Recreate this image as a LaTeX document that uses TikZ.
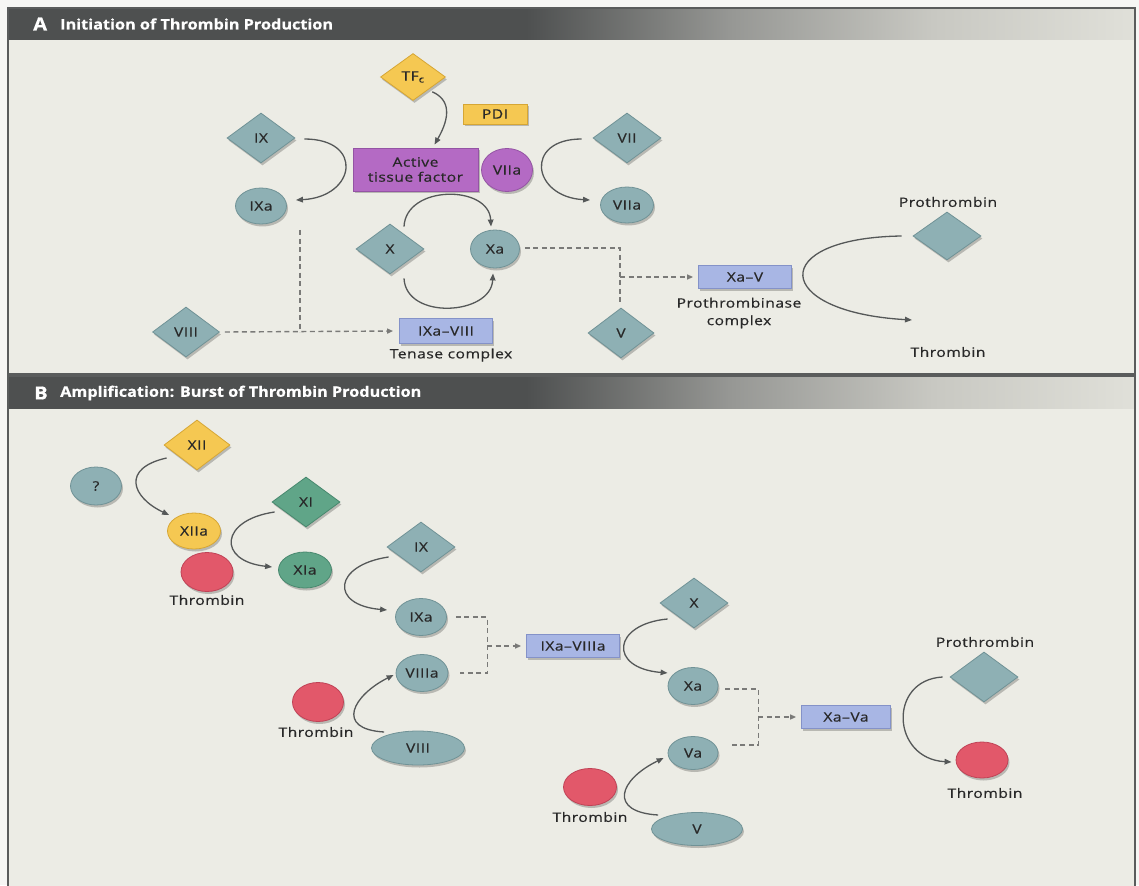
\documentclass[tikz,border=0pt]{standalone}
\usepackage{fontspec}
\setmainfont{Open Sans}[FakeStretch=1.2, LetterSpace=4, FakeBold=0.5]
\newfontfamily\hdrfont{Open Sans}[FakeStretch=1.12, FakeBold=0.6]
\usetikzlibrary{shapes.geometric, shadows, arrows.meta, calc}

\definecolor{cOut}{RGB}{246,246,244}
\definecolor{cPan}{RGB}{236,236,229}
\definecolor{cBord}{RGB}{90,92,92}
\definecolor{hdA}{RGB}{78,80,80}
\definecolor{hdB}{RGB}{150,151,148}
\definecolor{hdC}{RGB}{200,200,194}
\definecolor{hdD}{RGB}{224,224,217}
\definecolor{cTeal}{RGB}{142,176,180}
\definecolor{cTealE}{RGB}{112,146,150}
\definecolor{cYel}{RGB}{245,200,82}
\definecolor{cYelE}{RGB}{214,166,52}
\definecolor{cPur}{RGB}{180,106,196}
\definecolor{cPurE}{RGB}{148,84,164}
\definecolor{cGrn}{RGB}{96,165,136}
\definecolor{cGrnE}{RGB}{72,136,110}
\definecolor{cRed}{RGB}{226,88,106}
\definecolor{cRedE}{RGB}{192,66,86}
\definecolor{cBlu}{RGB}{168,182,228}
\definecolor{cBluE}{RGB}{132,146,200}
\definecolor{cTxt}{RGB}{40,40,40}
\definecolor{cArr}{RGB}{85,88,88}
\definecolor{cDsh}{RGB}{122,122,120}

\pgfdeclarehorizontalshading{hdrshade}{100bp}{color(0bp)=(hdA); color(48bp)=(hdA); color(57bp)=(hdB); color(66bp)=(hdC); color(75bp)=(hdD); color(100bp)=(hdD)}

\newcommand\lblfont{\fontsize{13}{15}\selectfont}
\newcommand\hdrtxt{\hdrfont\fontsize{14.5}{14.5}\bfseries\selectfont}

\tikzset{
  base/.style={inner sep=0pt, font=\lblfont, text=cTxt, line width=0.8pt,
    drop shadow={shadow xshift=1.5pt, shadow yshift=-2.5pt, opacity=0.22, fill=black}},
  dia/.style={base, diamond, minimum width=68pt, minimum height=50pt},
  ell/.style={base, ellipse, minimum width=51pt, minimum height=37pt},
  boxn/.style={base, rectangle, minimum width=93pt, minimum height=23pt},
  tealn/.style={fill=cTeal, draw=cTealE},
  yeln/.style={fill=cYel, draw=cYelE},
  purn/.style={fill=cPur, draw=cPurE},
  grnn/.style={fill=cGrn, draw=cGrnE},
  redn/.style={fill=cRed, draw=cRedE},
  blun/.style={fill=cBlu, draw=cBluE},
  lbl/.style={inner sep=0pt, font=\lblfont, text=cTxt},
  hdrlbl/.style={inner sep=0pt, text=white, anchor=west},
  arr/.style={draw=cArr, line width=1.3pt, -{Triangle[length=7pt,width=5.5pt]}},
  dsh/.style={draw=cDsh, line width=1.4pt, dash pattern=on 5pt off 3.5pt},
  dsharr/.style={dsh, -{Triangle[length=6pt,width=5pt]}, shorten >=5pt}
}

\begin{document}
\begin{tikzpicture}[x=1pt,y=-1pt]
\useasboundingbox (0,0) rectangle (1139,885);
\fill[cOut] (0,0) rectangle (1139,885);

% ---------- Panel A frame
\fill[cPan] (8,8) rectangle (1135,374);
\shade[shading=hdrshade] (8,8) rectangle (1135,40);
\draw[cBord, line width=1.5pt] (8,8) rectangle (1135,374);
\node[hdrlbl, font=\hdrfont\fontsize{18}{18}\bfseries\selectfont] (hA) at (33,24) {A};
\node[hdrlbl, font=\hdrtxt] (hA2) at (60,24) {Initiation of Thrombin Production};

% ---------- Panel B frame
\fill[cPan] (8,376) rectangle (1135,890);
\shade[shading=hdrshade] (8,376) rectangle (1135,408);
\draw[cBord, line width=1.5pt] (8,890) -- (8,376) -- (1135,376) -- (1135,890);
\node[hdrlbl, font=\hdrfont\fontsize{18}{18}\bfseries\selectfont] (hB) at (34,393) {B};
\node[hdrlbl, font=\hdrtxt] (hB2) at (60,393) {Amplification: Burst of Thrombin Production};

% ---------- Panel A nodes
\node[dia, yeln, minimum width=65pt, minimum height=47pt] (TFc) at (413,77) {TF\textsubscript{c}};
\node[base, rectangle, yeln, minimum width=64pt, minimum height=20pt] (PDI) at (495,114) {PDI};
\node[base, rectangle, purn, minimum width=125pt, minimum height=43pt, align=center] (ATF) at (415.5,169.5) {Active\\tissue factor};
\node[ell, purn, minimum width=51pt, minimum height=43pt] (VIIap) at (507,170) {VIIa};
\node[dia, tealn] (IX) at (261,138) {IX};
\node[ell, tealn, minimum height=36pt] (IXa) at (261,206) {IXa};
\node[dia, tealn] (VII) at (627,138) {VII};
\node[ell, tealn, minimum width=53pt, minimum height=36pt] (VIIa) at (627,205) {VIIa};
\node[dia, tealn] (X) at (390,249) {X};
\node[ell, tealn, minimum width=49pt, minimum height=38pt] (Xa) at (495,249) {Xa};
\node[dia, tealn, minimum width=66pt] (V) at (621,333) {V};
\node[boxn, blun] (XaV) at (745,277) {Xa--V};
\node[lbl, align=center, font=\fontsize{13}{17.5}\selectfont] (lPtc) at (739,313) {Prothrombinase\\complex};
\node[lbl] (lProA) at (948,202) {Prothrombin};
\node[dia, tealn, minimum height=48pt] (ProA) at (947,236) {};
\node[lbl] (lThrA) at (948,352) {Thrombin};
\coordinate (thrAend) at (912,320);
\node[dia, tealn, minimum width=67pt] (VIII) at (186,332) {VIII};
\node[boxn, blun, minimum height=25pt] (IXaVIII) at (446,331) {IXa--VIII};
\node[lbl] (lTen) at (451,355) {Tenase complex};
\coordinate (jIX) at (300,230);
\coordinate (jXaV) at (620,277);

% ---------- Panel A connectors
\draw[arr] ($(TFc.-40)+(4,2)$) .. controls +(18,8) and +(16,-28) .. ($(ATF.north)+(19,-3)$);
\draw[arr] ($(IX.east)+(9,1)$) .. controls +(60,0) and +(60,-3) .. ($(IXa.east)+(9,-6)$);
\draw[arr] ($(VII.west)+(-11,1)$) .. controls +(-58,0) and +(-58,-3) .. ($(VIIa.west)+(-10,-5)$);
\draw[arr] ($(X.north)+(14,3)$) .. controls +(2,-42) and +(-2,-42) .. ($(Xa.north)+(-4,-3)$);
\draw[arr] ($(X.south)+(14,4)$) .. controls +(2,42) and +(-2,42) .. ($(Xa.south)+(-2,5)$);
\draw[dsh] ($(Xa.east)+(5,-1)$) -| ($(V.north)+(-1,-5)$);
\draw[dsharr] (jXaV) -- (XaV.west);
\draw[dsh] (jIX) -- (jIX |- VIII.east);
\draw[dsharr, shorten >=6pt] ($(VIII.east)+(5,0)$) -- (IXaVIII.west);
\draw[arr] ($(ProA.west)+(-11,0)$) .. controls +(-135,2) and +(-140,-8) .. (thrAend);

% ---------- Panel B nodes
\node[dia, yeln, minimum width=66pt] (XII) at (197,445) {XII};
\node[ell, tealn, minimum height=38pt] (Q) at (96,486) {?};
\node[ell, yeln, minimum width=53pt, minimum height=36pt] (XIIa) at (194,531) {XIIa};
\node[ell, redn, minimum width=52pt, minimum height=39pt] (Thr1) at (207,572) {};
\node[lbl] (lThr1) at (207,600) {Thrombin};
\node[dia, grnn] (XI) at (306,502) {XI};
\node[ell, grnn, minimum width=53pt, minimum height=36pt] (XIa) at (305,570) {XIa};
\node[dia, tealn] (IXb) at (421,547) {IX};
\node[ell, tealn] (IXab) at (421,617) {IXa};
\node[ell, tealn, minimum width=52pt] (VIIIab) at (422,673) {VIIIa};
\node[ell, redn, minimum height=39pt] (Thr2) at (318,702) {};
\node[lbl] (lThr2) at (316,732) {Thrombin};
\node[ell, tealn, minimum width=93pt, minimum height=34pt] (VIIIb) at (418,748) {VIII};
\node[boxn, blun] (IXaVIIIa) at (573,646) {IXa--VIIIa};
\node[dia, tealn] (Xb) at (694,603) {X};
\node[ell, tealn, minimum width=50pt] (Xab) at (693,686) {Xa};
\node[ell, tealn, minimum width=50pt, minimum height=33pt] (Vab) at (693,753) {Va};
\node[ell, redn, minimum width=53pt] (Thr3) at (590,787) {};
\node[lbl] (lThr3) at (590,817) {Thrombin};
\node[ell, tealn, minimum width=91pt, minimum height=33pt] (Vb) at (697,829) {V};
\node[boxn, blun, minimum width=89pt] (XaVa) at (846,717) {Xa--Va};
\node[lbl] (lProB) at (985,642) {Prothrombin};
\node[dia, tealn] (ProB) at (984,677) {};
\node[ell, redn, minimum width=52pt, minimum height=36pt] (Thr4) at (982,760) {};
\node[lbl] (lThr4) at (985,793) {Thrombin};
\coordinate (jB1) at (487,646);
\coordinate (jB2) at (758,717);

% ---------- Panel B connectors
\draw[arr] ($(XII.west)+(3,13)$) .. controls +(-45,10) and +(-38,-18) .. ($(XIIa.west)+(2,-16)$);
\draw[arr] ($(XI.west)+(3,10)$) .. controls +(-55,8) and +(-55,-6) .. ($(XIa.west)+(-6,-3)$);
\draw[arr] ($(IXb.west)+(2,10)$) .. controls +(-55,8) and +(-58,-5) .. ($(IXab.west)+(-8,-7)$);
\draw[arr] ($(VIIIb.west)+(13,-16)$) .. controls +(-50,-3) and +(-40,20) .. ($(VIIIab.west)+(-2,2)$);
\draw[dsh] ($(IXab.east)+(9,0)$) -| ($(VIIIab.east)+(39,0)$) -- ($(VIIIab.east)+(12,0)$);
\draw[dsharr] (jB1) -- (IXaVIIIa.west);
\draw[arr] ($(Xb.west)+(8,16)$) .. controls +(-55,5) and +(-60,-5) .. ($(Xab.west)+(0,-13)$);
\draw[dsh] ($(Xab.east)+(7,3)$) -| ($(Vab.east)+(40,-8)$) -- ($(Vab.east)+(11,-8)$);
\draw[dsharr] (jB2) -- (XaVa.west);
\draw[arr] ($(Vb.west)+(7,-14)$) .. controls +(-50,-3) and +(-45,22) .. ($(Vab.west)+(-4,5)$);
\draw[arr] ($(ProB.west)+(-7,0)$) .. controls +(-55,3) and +(-60,-3) .. ($(Thr4.west)+(-4,2)$);
\end{tikzpicture}
\end{document}
